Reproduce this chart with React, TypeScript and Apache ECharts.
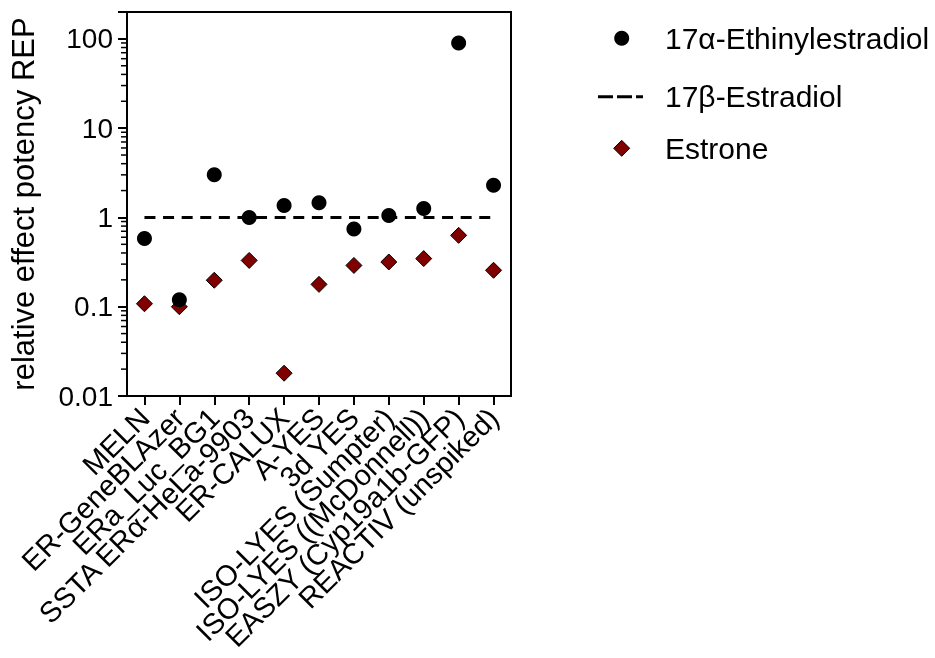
import React, { useEffect, useRef } from "react";
import * as echarts from "echarts";

const categories = [
  "MELN",
  "ER-GeneBLAzer",
  "ERa_Luc_BG1",
  "SSTA ERα-HeLa-9903",
  "ER-CALUX",
  "A-YES",
  "3d YES",
  "ISO-LYES (Sumpter)",
  "ISO-LYES ((McDonnell))",
  "EASZY (Cyp19a1b-GFP)",
  "REACTIV (unspiked)",
];

const ethinylestradiol = [0.58, 0.12, 3.0, 1.0, 1.36, 1.46, 0.74, 1.05, 1.26, 90, 2.3];
const estradiol = [1, 1, 1, 1, 1, 1, 1, 1, 1, 1, 1];
const estrone = [0.108, 0.1, 0.198, 0.33, 0.018, 0.178, 0.29, 0.317, 0.346, 0.63, 0.256];

const yMin = 0.01;
const yMax = 200;
const decades = [0.01, 0.1, 1, 10, 100];
const minorMultipliers = [2, 3, 4, 5, 6, 7, 8, 9];

const legendNames = ["17α-Ethinylestradiol", "17β-Estradiol", "Estrone"];

const FONT = "'Liberation Sans', Arial, Helvetica, sans-serif";
const ESTRONE_COLOR = "#800000";

function fmt(v: number) {
  const l = Math.round(Math.log10(v));
  if (l >= 0) return String(Math.round(v));
  return v.toFixed(-l);
}

function isPow10(v: number) {
  const l = Math.log10(v);
  return Math.abs(l - Math.round(l)) < 1e-6;
}

export default function App() {
  const ref = useRef<HTMLDivElement>(null);

  useEffect(() => {
    if (!ref.current) return;
    const chart = echarts.init(ref.current, undefined, { renderer: "svg" });

    const gridLeft = 127;
    const gridTop = 12;
    const gridW = 384;
    const gridH = 384;

    chart.setOption({
      animation: false,
      textStyle: { fontFamily: FONT, color: "#000" },
      grid: {
        left: gridLeft,
        top: gridTop,
        width: gridW,
        height: gridH,
        show: true,
        borderColor: "#000",
        borderWidth: 2,
        backgroundColor: "transparent",
        containLabel: false,
      },
      xAxis: {
        type: "category",
        data: categories,
        boundaryGap: true,
        axisLine: { show: true, lineStyle: { color: "#000", width: 2 } },
        axisTick: {
          show: true,
          alignWithLabel: true,
          length: 9,
          lineStyle: { color: "#000", width: 2 },
        },
        axisLabel: {
          rotate: 45,
          interval: 0,
          fontSize: 29,
          margin: 17,
          color: "#000",
          fontFamily: FONT,
        },
        splitLine: { show: false },
      },
      yAxis: {
        type: "log",
        logBase: 10,
        min: yMin,
        max: yMax,
        name: "relative effect potency REP",
        nameLocation: "middle",
        nameGap: 88,
        nameTextStyle: { fontSize: 31, color: "#000", fontFamily: FONT },
        axisLine: { show: true, lineStyle: { color: "#000", width: 2 } },
        axisTick: {
          show: true,
          inside: false,
          length: 9,
          lineStyle: { color: "#000", width: 2 },
        },
        axisLabel: {
          fontSize: 28,
          margin: 14,
          color: "#000",
          fontFamily: FONT,
          customValues: decades,
          formatter: (v: number) => (isPow10(v) ? fmt(v) : ""),
        },
        splitLine: { show: false },
      },
      series: [
        {
          type: "scatter",
          name: legendNames[2],
          data: estrone,
          symbol: "diamond",
          symbolSize: 16,
          itemStyle: { color: ESTRONE_COLOR, borderColor: "#000", borderWidth: 1, opacity: 1 },
          z: 2,
        },
        {
          type: "line",
          name: legendNames[1],
          data: estradiol,
          symbol: "none",
          lineStyle: { color: "#000", width: 3, type: [11, 7.6] },
          z: 3,
        },
        {
          type: "scatter",
          name: legendNames[0],
          data: ethinylestradiol,
          symbol: "circle",
          symbolSize: 15,
          itemStyle: { color: "#000", opacity: 1 },
          z: 4,
        },
      ],
    });

    // log-minor ticks on the y axis, placed through the axis scale
    const minorVals: number[] = [];
    decades.forEach((d) => {
      minorMultipliers.forEach((m) => {
        const v = +(d * m).toPrecision(6);
        if (v <= yMax + 1e-9) minorVals.push(v);
      });
    });
    const minorGraphics = minorVals.map((v) => {
      const py = chart.convertToPixel({ yAxisIndex: 0 }, v) as unknown as number;
      return {
        type: "rect",
        z: 100,
        shape: { x: gridLeft - 6, y: py - 0.75, width: 6, height: 1.5 },
        style: { fill: "#000" },
      };
    });

    const lx = 621.7;
    const tx = 665;
    const rows = [38.3, 96.7, 148.3];

    chart.setOption({
      graphic: [
        ...minorGraphics,
        {
          type: "circle",
          shape: { cx: lx, cy: rows[0], r: 7.5 },
          style: { fill: "#000" },
        },
        {
          type: "line",
          shape: { x1: 598, y1: rows[1], x2: 643, y2: rows[1] },
          style: { stroke: "#000", lineWidth: 3, lineDash: [15, 4] },
        },
        {
          type: "polygon",
          shape: {
            points: [
              [lx, rows[2] - 8],
              [lx + 8, rows[2]],
              [lx, rows[2] + 8],
              [lx - 8, rows[2]],
            ],
          },
          style: { fill: ESTRONE_COLOR, stroke: "#000", lineWidth: 1 },
        },
        ...legendNames.map((n, i) => ({
          type: "text",
          x: tx,
          y: rows[i],
          style: {
            text: n,
            fontSize: 30,
            fontFamily: FONT,
            fill: "#000",
            verticalAlign: "middle",
            align: "left",
          },
        })),
      ],
    });

    return () => {
      chart.dispose();
    };
  }, []);

  return (
    <div
      ref={ref}
      style={{ position: "fixed", left: 0, top: 0, width: 935, height: 658 }}
    />
  );
}
